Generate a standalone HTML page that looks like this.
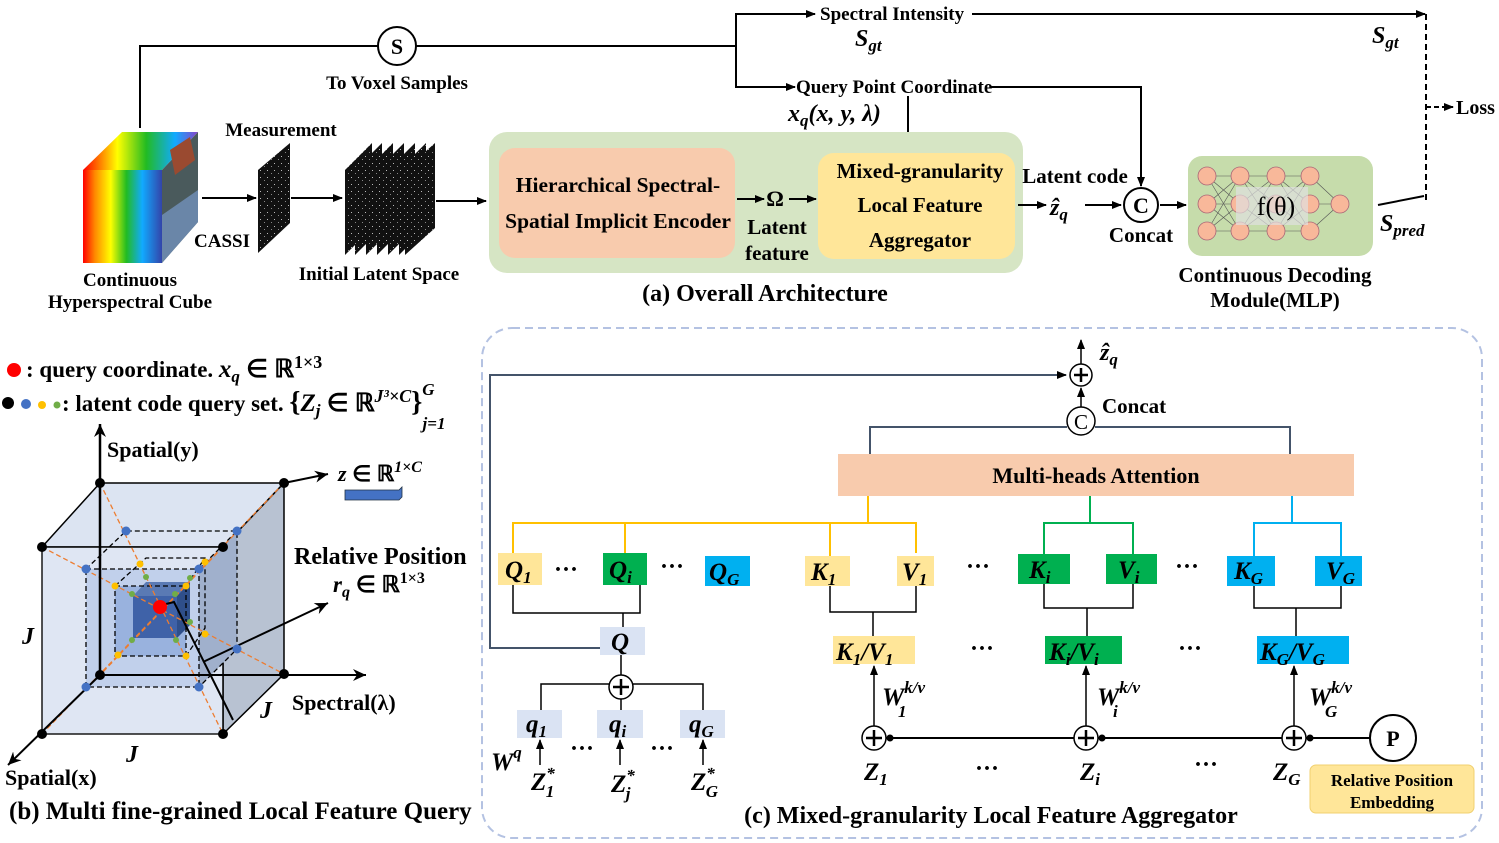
<!DOCTYPE html>
<html><head><meta charset="utf-8">
<style>
html,body{margin:0;padding:0;background:#fff;}
svg{display:block;font-family:"Liberation Serif",serif;font-weight:bold;}
.s{font-size:19px}
.m{font-size:21px}
.i{font-style:italic}
</style></head><body>
<svg width="1499" height="843" viewBox="0 0 1499 843" xmlns="http://www.w3.org/2000/svg">
<defs>
<marker id="a" markerWidth="10" markerHeight="8" refX="9" refY="4" orient="auto" markerUnits="userSpaceOnUse"><path d="M0,0 L10,4 L0,8 Z" fill="#000"/></marker>
<marker id="ab" markerWidth="14" markerHeight="12" refX="13" refY="6" orient="auto" markerUnits="userSpaceOnUse"><path d="M0,0 L13,6 L0,12 L4,6 Z" fill="#000"/></marker>
<linearGradient id="rb" x1="0" x2="1"><stop offset="0" stop-color="#f00"/><stop offset=".15" stop-color="#f80"/><stop offset=".35" stop-color="#ff0"/><stop offset=".55" stop-color="#2b2"/><stop offset=".75" stop-color="#1af"/><stop offset="1" stop-color="#34a"/></linearGradient>
<linearGradient id="rb2" x1="0" x2="1"><stop offset="0" stop-color="#f00"/><stop offset=".3" stop-color="#ff0"/><stop offset=".55" stop-color="#2b2"/><stop offset=".8" stop-color="#1af"/><stop offset="1" stop-color="#84c"/></linearGradient>
<pattern id="nz" width="7" height="7" patternUnits="userSpaceOnUse"><rect width="7" height="7" fill="#111"/><rect x="1" y="2" width="1" height="1" fill="#bbb"/><rect x="5" y="5" width="1" height="1" fill="#888"/></pattern>
</defs>

<!-- ===== Part (a) ===== -->
<polyline points="140,128 140,46 378,46" fill="none" stroke="#000" stroke-width="2"/>
<line x1="416" y1="46" x2="736" y2="46" stroke="#000" stroke-width="2"/>
<circle cx="397" cy="46" r="19" fill="#fff" stroke="#000" stroke-width="2"/>
<text x="397" y="54" text-anchor="middle" font-size="22">S</text>
<text x="397" y="89" text-anchor="middle" class="s">To Voxel Samples</text>
<line x1="736" y1="14" x2="736" y2="87" stroke="#000" stroke-width="2"/>
<line x1="735" y1="14" x2="815" y2="14" stroke="#000" stroke-width="2" marker-end="url(#a)"/>
<line x1="735" y1="87" x2="795" y2="87" stroke="#000" stroke-width="2" marker-end="url(#a)"/>
<text x="820" y="20" class="s">Spectral Intensity</text>
<text x="796" y="93" class="s">Query Point Coordinate</text>
<text x="855" y="46" font-size="24" class="i">S<tspan font-size="17" dy="5">gt</tspan></text>
<text x="1372" y="43" font-size="24" class="i">S<tspan font-size="17" dy="5">gt</tspan></text>
<line x1="972" y1="14" x2="1425" y2="14" stroke="#000" stroke-width="2" marker-end="url(#a)"/>
<line x1="1426" y1="14" x2="1426" y2="200" stroke="#000" stroke-width="2" stroke-dasharray="6,4"/>
<line x1="1426" y1="107" x2="1453" y2="107" stroke="#000" stroke-width="2" stroke-dasharray="5,3" marker-end="url(#a)"/>
<text x="1456" y="114" font-size="20">Loss</text>
<polyline points="990,87 1141,87 1141,186" fill="none" stroke="#000" stroke-width="2" marker-end="url(#a)"/>
<text x="788" y="121" font-size="24" class="i">x<tspan font-size="17" dy="5">q</tspan><tspan dy="-5">(x, y, λ)</tspan></text>
<line x1="908" y1="96" x2="908" y2="150" stroke="#000" stroke-width="2" marker-end="url(#a)"/>

<polygon points="83,170 122,132 198,132 162,170" fill="url(#rb2)"/>
<rect x="83" y="170" width="79" height="93" fill="url(#rb)"/>
<polygon points="162,170 198,132 198,222 162,263" fill="#4a5a5c"/>
<polygon points="162,215 198,190 198,222 162,263" fill="#6a86a8"/>
<polygon points="170,150 190,137 195,160 175,175" fill="#9a4a30"/>
<text x="130" y="286" text-anchor="middle" class="s">Continuous</text>
<text x="130" y="308" text-anchor="middle" class="s">Hyperspectral Cube</text>
<line x1="202" y1="198" x2="256" y2="198" stroke="#000" stroke-width="2" marker-end="url(#a)"/>
<text x="281" y="136" text-anchor="middle" class="s">Measurement</text>
<polygon points="258,170 290,143 290,223 258,253" fill="url(#nz)"/>
<text x="222" y="247" text-anchor="middle" class="s">CASSI</text>
<line x1="291" y1="198" x2="342" y2="198" stroke="#000" stroke-width="2" marker-end="url(#a)"/>
<g fill="url(#nz)">
<polygon points="345,170 372,143 372,228 345,255"/>
<polygon points="355,170 382,143 382,228 355,255"/>
<polygon points="366,170 393,143 393,228 366,255"/>
<polygon points="377,170 404,143 404,228 377,255"/>
<polygon points="388,170 415,143 415,228 388,255"/>
<polygon points="399,170 426,143 426,228 399,255"/>
<polygon points="405,170 435,143 435,228 405,255"/>
</g>
<text x="379" y="280" text-anchor="middle" class="s">Initial Latent Space</text>
<line x1="436" y1="201" x2="486" y2="201" stroke="#000" stroke-width="2" marker-end="url(#a)"/>

<rect x="489" y="132" width="534" height="141" rx="18" fill="#d6e5c4"/>
<rect x="499" y="148" width="236" height="110" rx="16" fill="#f8cbad"/>
<text x="618" y="192" text-anchor="middle" font-size="21.5">Hierarchical Spectral-</text>
<text x="618" y="228" text-anchor="middle" font-size="21.5">Spatial Implicit Encoder</text>
<line x1="737" y1="199" x2="764" y2="199" stroke="#000" stroke-width="2" marker-end="url(#a)"/>
<text x="775" y="206" text-anchor="middle" font-size="22">Ω</text>
<line x1="789" y1="199" x2="816" y2="199" stroke="#000" stroke-width="2" marker-end="url(#a)"/>
<text x="777" y="234" text-anchor="middle" class="m">Latent</text>
<text x="777" y="260" text-anchor="middle" class="m">feature</text>
<rect x="818" y="153" width="197" height="106" rx="16" fill="#ffe699"/>
<text x="920" y="178" text-anchor="middle" class="m">Mixed-granularity</text>
<text x="920" y="212" text-anchor="middle" class="m">Local Feature</text>
<text x="920" y="247" text-anchor="middle" class="m">Aggregator</text>
<text x="765" y="301" text-anchor="middle" font-size="24">(a) Overall Architecture</text>

<text x="1075" y="183" text-anchor="middle" class="m">Latent code</text>
<line x1="1018" y1="205" x2="1046" y2="205" stroke="#000" stroke-width="2" marker-end="url(#a)"/>
<text x="1050" y="215" font-size="24" class="i">ẑ<tspan font-size="17" dy="5">q</tspan></text>
<line x1="1085" y1="205" x2="1121" y2="205" stroke="#000" stroke-width="2" marker-end="url(#a)"/>
<circle cx="1141" cy="205" r="17" fill="#fff" stroke="#000" stroke-width="2"/>
<text x="1141" y="213" text-anchor="middle" font-size="22">C</text>
<text x="1141" y="242" text-anchor="middle" class="m">Concat</text>
<line x1="1160" y1="205" x2="1186" y2="205" stroke="#000" stroke-width="2" marker-end="url(#a)"/>
<rect x="1188" y="156" width="185" height="100" rx="14" fill="#c6dcab"/>
<g stroke="#555" stroke-width="0.6">
<path d="M1207,176 L1240,176 M1207,176 L1240,204 M1207,176 L1240,231 M1207,204 L1240,176 M1207,204 L1240,204 M1207,204 L1240,231 M1207,231 L1240,176 M1207,231 L1240,204 M1207,231 L1240,231"/>
<path d="M1240,176 L1276,176 M1240,176 L1276,204 M1240,176 L1276,231 M1240,204 L1276,176 M1240,204 L1276,231 M1240,231 L1276,176 M1240,231 L1276,204 M1240,231 L1276,231"/>
<path d="M1276,176 L1310,176 M1276,176 L1310,204 M1276,176 L1310,231 M1276,204 L1310,176 M1276,204 L1310,231 M1276,231 L1310,176 M1276,231 L1310,204 M1276,231 L1310,231"/>
<path d="M1310,176 L1340,204 M1310,204 L1340,204 M1310,231 L1340,204"/>
</g>
<g fill="#f8b89a" stroke="#a67" stroke-width="0.8">
<circle cx="1207" cy="176" r="9"/><circle cx="1207" cy="204" r="9"/><circle cx="1207" cy="231" r="9"/>
<circle cx="1240" cy="176" r="9"/><circle cx="1240" cy="204" r="9"/><circle cx="1240" cy="231" r="9"/>
<circle cx="1276" cy="176" r="9"/><circle cx="1276" cy="204" r="9"/><circle cx="1276" cy="231" r="9"/>
<circle cx="1310" cy="176" r="9"/><circle cx="1310" cy="204" r="9"/><circle cx="1310" cy="231" r="9"/>
<circle cx="1340" cy="204" r="9"/>
</g>
<rect x="1236" y="187" width="72" height="38" fill="#e0e0e0" opacity="0.7"/>
<text x="1276" y="215" text-anchor="middle" font-size="26" font-weight="normal">f(θ)</text>
<text x="1275" y="282" text-anchor="middle" class="m">Continuous Decoding</text>
<text x="1275" y="307" text-anchor="middle" class="m">Module(MLP)</text>
<line x1="1378" y1="205" x2="1424" y2="196" stroke="#000" stroke-width="2"/>
<text x="1380" y="231" font-size="24" class="i">S<tspan font-size="17" dy="5">pred</tspan></text>

<!-- ===== Part (b) ===== -->
<circle cx="14" cy="370" r="7" fill="#f00"/>
<text x="26" y="377" font-size="23">:  query coordinate. <tspan class="i" font-size="25">x<tspan font-size="17" dy="5">q</tspan></tspan><tspan dy="-5" font-size="25"> ∈ ℝ</tspan><tspan font-size="18" dy="-9">1×3</tspan></text>
<circle cx="8" cy="403" r="6" fill="#000"/><circle cx="26" cy="404" r="5" fill="#4472c4"/><circle cx="42" cy="405" r="4" fill="#ffc000"/><circle cx="57" cy="405" r="3.5" fill="#70ad47"/>
<text x="62" y="411" font-size="23">: latent code query set. <tspan font-size="28">{</tspan><tspan class="i" font-size="25">Z<tspan font-size="17" dy="5">j</tspan></tspan><tspan dy="-5" font-size="25"> ∈ ℝ</tspan><tspan font-size="18" dy="-9" class="i">J³×C</tspan><tspan dy="9" font-size="28">}</tspan><tspan font-size="17" dy="-16" class="i">G</tspan><tspan font-size="17" dx="-12" dy="34" class="i">j=1</tspan></text>

<polygon points="42,547 100,483 284,483 223,547" fill="#dce4f2" stroke="#000" stroke-width="1.5"/>
<polygon points="223,547 284,483 284,674 223,734" fill="#b8c2d2" stroke="#000" stroke-width="1.5"/>
<rect x="42" y="547" width="181" height="187" fill="#dce4f2" opacity="0.9" stroke="#000" stroke-width="1.5"/>
<rect x="86" y="569" width="113" height="118" fill="#b4c6e7" opacity="0.7"/>
<polygon points="199,569 237,531 237,649 199,687" fill="#a0b0cc"/>
<rect x="115" y="586" width="71" height="70" fill="#8eaadb" opacity="0.8"/>
<polygon points="133,596 146,582 190,582 177,596" fill="#5a7ab4"/>
<rect x="133" y="596" width="44" height="42" fill="#3f62a8"/>
<polygon points="177,596 190,582 190,625 177,638" fill="#2f4f8a"/>
<g fill="none" stroke="#000" stroke-width="1.3" stroke-dasharray="5,3">
<rect x="86" y="569" width="113" height="118"/>
<polyline points="86,569 126,531 237,531 237,649 199,687"/>
<line x1="199" y1="569" x2="237" y2="531"/>
<rect x="115" y="586" width="71" height="70"/>
<polyline points="115,586 146,558 205,558 205,628 186,656"/>
<line x1="186" y1="586" x2="205" y2="558"/>
</g>
<g stroke="#ed7d31" stroke-width="1.3" stroke-dasharray="5,3">
<line x1="42" y1="547" x2="284" y2="674"/><line x1="100" y1="483" x2="223" y2="734"/>
<line x1="284" y1="483" x2="42" y2="734"/><line x1="223" y1="547" x2="100" y2="675"/>
</g>
<line x1="100" y1="675" x2="100" y2="424" stroke="#000" stroke-width="2.5" marker-end="url(#ab)"/>
<line x1="100" y1="675" x2="366" y2="675" stroke="#000" stroke-width="2" marker-end="url(#ab)"/>
<line x1="100" y1="675" x2="8" y2="765" stroke="#000" stroke-width="2" marker-end="url(#ab)"/>
<line x1="284" y1="483" x2="328" y2="474" stroke="#000" stroke-width="2" marker-end="url(#ab)"/>
<polyline points="166,604 174,602 233,720" fill="none" stroke="#000" stroke-width="2"/>
<line x1="203" y1="662" x2="328" y2="603" stroke="#000" stroke-width="2" marker-end="url(#ab)"/>
<g fill="#000">
<circle cx="100" cy="483" r="5"/><circle cx="284" cy="483" r="5"/><circle cx="42" cy="547" r="5"/><circle cx="223" cy="547" r="5"/>
<circle cx="284" cy="674" r="5"/><circle cx="100" cy="675" r="5"/><circle cx="42" cy="734" r="5"/><circle cx="223" cy="734" r="5"/>
</g>
<g fill="#4472c4"><circle cx="126" cy="531" r="4.5"/><circle cx="237" cy="531" r="4.5"/><circle cx="86" cy="569" r="4.5"/><circle cx="199" cy="569" r="4.5"/><circle cx="237" cy="649" r="4.5"/><circle cx="86" cy="687" r="4.5"/><circle cx="199" cy="687" r="4.5"/></g>
<g fill="#ffc000"><circle cx="140" cy="564" r="3.5"/><circle cx="205" cy="562" r="3.5"/><circle cx="115" cy="586" r="3.5"/><circle cx="186" cy="586" r="3.5"/><circle cx="205" cy="634" r="3.5"/><circle cx="118" cy="655" r="3.5"/><circle cx="186" cy="656" r="3.5"/></g>
<g fill="#70ad47"><circle cx="146" cy="577" r="3"/><circle cx="190" cy="578" r="3"/><circle cx="132" cy="594" r="3"/><circle cx="175" cy="594" r="3"/><circle cx="190" cy="622" r="3"/><circle cx="132" cy="640" r="3"/><circle cx="176" cy="640" r="3"/></g>
<circle cx="160" cy="607" r="7" fill="#f00"/>
<text x="107" y="457" font-size="22">Spatial(y)</text>
<text x="338" y="481" font-size="22" class="i">z <tspan font-style="normal">∈ ℝ</tspan><tspan font-size="16" dy="-9">1×C</tspan></text>
<polygon points="345,490 399,490 402,487 402,497 399,500 345,500" fill="#4472c4" stroke="#234" stroke-width="0.8"/>
<text x="294" y="564" font-size="24">Relative Position</text>
<text x="333" y="592" font-size="23" class="i">r<tspan font-size="16" dy="5">q</tspan><tspan dy="-5" font-style="normal"> ∈ ℝ</tspan><tspan font-size="16" dy="-9" font-style="normal">1×3</tspan></text>
<text x="292" y="710" font-size="22">Spectral(λ)</text>
<text x="22" y="644" font-size="24" class="i">J</text>
<text x="260" y="718" font-size="24" class="i">J</text>
<text x="126" y="762" font-size="24" class="i">J</text>
<text x="5" y="785" font-size="22">Spatial(x)</text>
<text x="9" y="819" font-size="25">(b) Multi fine-grained Local Feature Query</text>

<!-- ===== Part (c) ===== -->
<rect x="482" y="328" width="1000" height="510" rx="30" fill="none" stroke="#b4c2e2" stroke-width="2" stroke-dasharray="8,5"/>
<polyline points="600,648 490,648 490,375 1066,375" fill="none" stroke="#44546a" stroke-width="2" marker-end="url(#a)"/>
<circle cx="1081" cy="375" r="11" fill="#fff" stroke="#000" stroke-width="1.5"/>
<path d="M1074,375 h14 M1081,368 v14" stroke="#000" stroke-width="2.5"/>
<line x1="1081" y1="364" x2="1081" y2="340" stroke="#000" stroke-width="1.5" marker-end="url(#a)"/>
<text x="1100" y="360" font-size="24" class="i">ẑ<tspan font-size="17" dy="5">q</tspan></text>
<line x1="1081" y1="407" x2="1081" y2="388" stroke="#000" stroke-width="1.5" marker-end="url(#a)"/>
<circle cx="1081" cy="421" r="14" fill="#fff" stroke="#000" stroke-width="1.5"/>
<text x="1081" y="429" text-anchor="middle" font-size="21" font-weight="normal">C</text>
<text x="1102" y="413" class="m">Concat</text>
<polyline points="870,454 870,427 1067,427" fill="none" stroke="#44546a" stroke-width="2"/>
<polyline points="1095,427 1290,427 1290,454" fill="none" stroke="#44546a" stroke-width="2"/>
<rect x="838" y="454" width="516" height="42" fill="#f8cbad"/>
<text x="1096" y="483" text-anchor="middle" font-size="22">Multi-heads Attention</text>

<polyline points="513,553 513,523 916,523 916,553" fill="none" stroke="#ffc000" stroke-width="2"/>
<line x1="868" y1="496" x2="868" y2="523" stroke="#ffc000" stroke-width="2"/>
<line x1="830" y1="523" x2="830" y2="556" stroke="#ffc000" stroke-width="2"/>
<line x1="625" y1="523" x2="625" y2="556" stroke="#ffc000" stroke-width="2"/>
<polyline points="1044,556 1044,523 1133,523 1133,556" fill="none" stroke="#00b050" stroke-width="2"/>
<line x1="1090" y1="496" x2="1090" y2="523" stroke="#00b050" stroke-width="2"/>
<polyline points="1254,556 1254,523 1341,523 1341,556" fill="none" stroke="#00b0f0" stroke-width="2"/>
<line x1="1292" y1="496" x2="1292" y2="523" stroke="#00b0f0" stroke-width="2"/>

<g font-size="25" class="i">
<rect x="498" y="553" width="44" height="32" fill="#ffe699"/><text x="505" y="578">Q<tspan font-size="17" dy="5">1</tspan></text>
<rect x="603" y="553" width="44" height="32" fill="#00b050"/><text x="609" y="578">Q<tspan font-size="17" dy="5">i</tspan></text>
<rect x="705" y="556" width="45" height="30" fill="#00b0f0"/><text x="709" y="580">Q<tspan font-size="17" dy="5">G</tspan></text>
<rect x="805" y="556" width="45" height="30" fill="#ffe699"/><text x="811" y="580">K<tspan font-size="17" dy="5">1</tspan></text>
<rect x="897" y="556" width="37" height="30" fill="#ffe699"/><text x="902" y="580">V<tspan font-size="17" dy="5">1</tspan></text>
<rect x="1018" y="554" width="52" height="30" fill="#00b050"/><text x="1029" y="578">K<tspan font-size="17" dy="5">i</tspan></text>
<rect x="1106" y="554" width="51" height="30" fill="#00b050"/><text x="1118" y="578">V<tspan font-size="17" dy="5">i</tspan></text>
<rect x="1227" y="556" width="48" height="30" fill="#00b0f0"/><text x="1234" y="579">K<tspan font-size="17" dy="5">G</tspan></text>
<rect x="1315" y="556" width="47" height="30" fill="#00b0f0"/><text x="1326" y="579">V<tspan font-size="17" dy="5">G</tspan></text>
<rect x="600" y="627" width="45" height="28" fill="#dae3f3"/><text x="611" y="650">Q</text>
<rect x="833" y="636" width="82" height="28" fill="#ffe699"/><text x="836" y="660">K<tspan font-size="17" dy="5">1</tspan><tspan dy="-5">/V</tspan><tspan font-size="17" dy="5">1</tspan></text>
<rect x="1045" y="636" width="77" height="28" fill="#00b050"/><text x="1049" y="660">K<tspan font-size="17" dy="5">i</tspan><tspan dy="-5">/V</tspan><tspan font-size="17" dy="5">i</tspan></text>
<rect x="1257" y="636" width="92" height="28" fill="#00b0f0"/><text x="1260" y="660">K<tspan font-size="17" dy="5">G</tspan><tspan dy="-5">/V</tspan><tspan font-size="17" dy="5">G</tspan></text>
<rect x="517" y="710" width="45" height="28" fill="#dae3f3"/><text x="526" y="732">q<tspan font-size="17" dy="5">1</tspan></text>
<rect x="597" y="710" width="46" height="28" fill="#dae3f3"/><text x="609" y="732">q<tspan font-size="17" dy="5">i</tspan></text>
<rect x="680" y="710" width="45" height="28" fill="#dae3f3"/><text x="689" y="732">q<tspan font-size="17" dy="5">G</tspan></text>
</g>
<g font-size="24" text-anchor="middle"><text x="566" y="577">···</text><text x="672" y="574">···</text><text x="978" y="574">···</text><text x="1187" y="574">···</text>
<text x="982" y="656">···</text><text x="1190" y="656">···</text><text x="582" y="756">···</text><text x="662" y="756">···</text><text x="987" y="776">···</text><text x="1206" y="772">···</text></g>

<g stroke="#000" stroke-width="1.5" fill="none">
<polyline points="513,585 513,613 640,613 640,585"/>
<line x1="623" y1="613" x2="623" y2="627"/>
<polyline points="830,586 830,612 916,612 916,586"/>
<line x1="873" y1="612" x2="873" y2="636"/>
<polyline points="1044,584 1044,608 1133,608 1133,584"/>
<line x1="1087" y1="608" x2="1087" y2="636"/>
<polyline points="1254,586 1254,608 1341,608 1341,586"/>
<line x1="1296" y1="608" x2="1296" y2="636"/>
<polyline points="541,710 541,684 703,684 703,710"/>
<line x1="621" y1="675" x2="621" y2="655"/>
<line x1="621" y1="684" x2="621" y2="710"/>
</g>
<g stroke="#000" stroke-width="1.5" marker-end="url(#a)">
<line x1="540" y1="765" x2="540" y2="740"/><line x1="620" y1="765" x2="620" y2="740"/><line x1="703" y1="765" x2="703" y2="740"/>
<line x1="874" y1="726" x2="874" y2="666"/><line x1="1086" y1="726" x2="1086" y2="666"/><line x1="1294" y1="726" x2="1294" y2="666"/>
</g>
<line x1="874" y1="738" x2="1370" y2="738" stroke="#000" stroke-width="2"/>
<g fill="#fff" stroke="#000" stroke-width="1.5">
<circle cx="621" cy="687" r="12"/><circle cx="874" cy="738" r="12"/><circle cx="1086" cy="738" r="12"/><circle cx="1294" cy="738" r="12"/>
</g>
<g stroke="#000" stroke-width="2.5">
<path d="M613,687 h16 M621,679 v16"/><path d="M866,738 h16 M874,730 v16"/><path d="M1078,738 h16 M1086,730 v16"/><path d="M1286,738 h16 M1294,730 v16"/>
</g>
<g fill="#000"><circle cx="890" cy="738" r="3.5"/><circle cx="1102" cy="738" r="3.5"/><circle cx="1310" cy="738" r="3.5"/></g>
<circle cx="1393" cy="738" r="23" fill="#fff" stroke="#000" stroke-width="2"/>
<text x="1393" y="746" text-anchor="middle" font-size="22">P</text>
<rect x="1310" y="765" width="164" height="48" rx="6" fill="#ffe699" stroke="#f0d070" stroke-width="1"/>
<text x="1392" y="786" text-anchor="middle" font-size="17">Relative Position</text>
<text x="1392" y="808" text-anchor="middle" font-size="17">Embedding</text>

<g font-size="25" class="i">
<text x="882" y="705">W<tspan font-size="17" dy="-12">k/v</tspan><tspan font-size="17" dx="-27" dy="24">1</tspan></text>
<text x="1097" y="705">W<tspan font-size="17" dy="-12">k/v</tspan><tspan font-size="17" dx="-27" dy="24">i</tspan></text>
<text x="1309" y="705">W<tspan font-size="17" dy="-12">k/v</tspan><tspan font-size="17" dx="-27" dy="24">G</tspan></text>
<text x="491" y="770">W<tspan font-size="17" dy="-12">q</tspan></text>
<text x="531" y="790">Z<tspan font-size="17" dy="-11">*</tspan><tspan font-size="17" dx="-9" dy="18">1</tspan></text>
<text x="611" y="792">Z<tspan font-size="17" dy="-11">*</tspan><tspan font-size="17" dx="-9" dy="18">j</tspan></text>
<text x="691" y="790">Z<tspan font-size="17" dy="-11">*</tspan><tspan font-size="17" dx="-9" dy="18">G</tspan></text>
<text x="864" y="780">Z<tspan font-size="17" dy="5">1</tspan></text>
<text x="1080" y="780">Z<tspan font-size="17" dy="5">i</tspan></text>
<text x="1273" y="780">Z<tspan font-size="17" dy="5">G</tspan></text>
</g>
<text x="991" y="823" text-anchor="middle" font-size="24">(c) Mixed-granularity Local Feature Aggregator</text>
</svg>
</body></html>
